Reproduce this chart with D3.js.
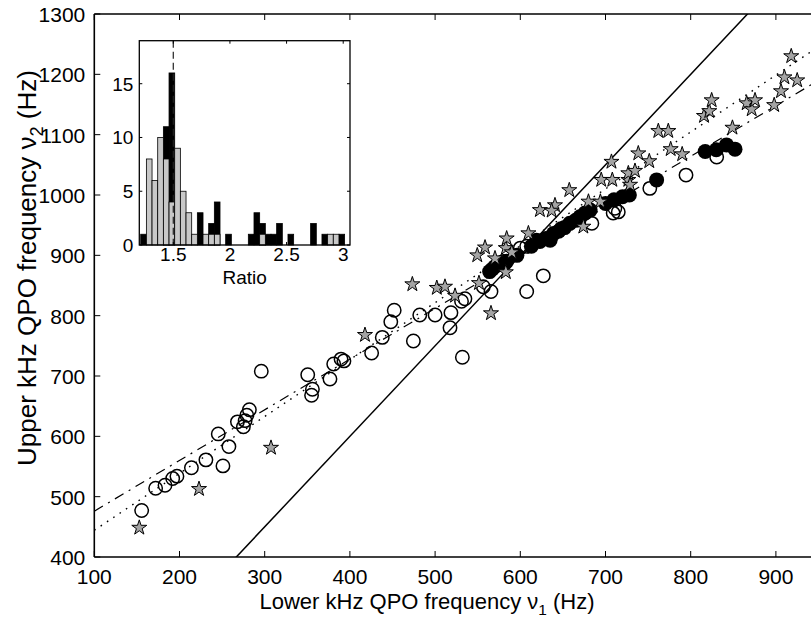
<!DOCTYPE html>
<html><head><meta charset="utf-8">
<script src="https://cdn.jsdelivr.net/npm/d3@7"></script>
<style>body{margin:0;background:#fff}svg{display:block}text{font-family:"Liberation Sans",Arial,Helvetica,sans-serif;fill:#000}</style>
</head><body><svg id="c" width="811" height="625"></svg>
<script>
// ---------- data ----------
const xTicks = [100,200,300,400,500,600,700,800,900];
const yTicks = [400,500,600,700,800,900,1000,1100,1200,1300];
const openNu1 = [155.6,172,183,192,197,214,231,251,245.5,258,268,275,277,279,282,296,350.5,356,355,376.6,381,389.6,393,425.5,438,448,452,474.5,482,500,518.6,517.5,531,535,532,556.6,565.6,607.5,627,607.5,684,709,715,711,752,794.5,830.5,580,600];
const openNu2 = [477,514,519,530,534,548,561,551,604,583,624,616,626,635,644,708,702,678,668,695,720,728,725,738,764,790,809,758,801,801,805,780,824,828,731,848,840,840,866,915,953,970,972,978,1011,1033,1063,890,912];
const fillNu1 = [564,567,570,582,584,596,613,619,623,630,635,639,645,648,652,658,665,670,676,682,700,710,720,728,760,817,830,842,852];
const fillNu2 = [873,877,881,887,890,900,915,925,923,928,925,936,940,944,946,953,958,964,970,975,986,992,997,1000,1025,1072,1075,1083,1076];
const starNu1 = [152.8,222.9,307.4,417.7,473.3,502,511.6,523.4,551.5,565.6,549.5,558.6,570.3,583,590,583,584,609.5,623,640.7,636.8,657.5,674,680,694,695,708,707,726.8,726.8,734.6,728.8,738.5,751.4,762,773.7,776.5,790,849,815.6,821.8,824.6,865.7,871.6,875.5,898,906,910,925,918];
const starNu2 = [448.5,512.7,581,768,852,846,848,833,854,804,900,913,895,912,905,872,928,936.5,975,983,974,1008,947.5,989,989,1025,1025,1055,1025,1036,1040,1017,1069,1056,1106,1106,1076,1067.5,1111.5,1131,1139,1157,1152,1142,1157,1149,1172,1195,1190,1230];
// fit lines (nu2 = slope*nu1 + intercept)
const lineSolid = {slope:1.5, intercept:0};
const lineDashDot = {slope:0.84, intercept:392};
const lineDotted = {slope:0.943, intercept:350};
// inset histogram
const binCenters = [1.2375,1.2875,1.3375,1.3875,1.4375,1.4875,1.5375,1.5875,1.6375,1.6875,1.7375,1.7875,1.8375,1.8875,1.9375,1.9875,2.0375,2.0875,2.1375,2.1875,2.2375,2.2875,2.3375,2.3875,2.4375,2.4875,2.5375,2.5875,2.6375,2.6875,2.7375,2.7875,2.8375,2.8875,2.9375,2.9875];
const blackCounts = [1,0,0,0,11,16,0,0,0,0,3,0,2,4,0,1,0,0,0,1,3,2,1,1,2,0,1,0,0,0,2,0,1,0,0,1];
const grayCounts  = [0,8,6,10,8,4,9,5,3,1,0,1,1,1,0,0,0,0,0,0,0,1,0,0,0,0,0,0,0,0,0,0,0,1,1,0];
const binWidth = 0.05;
const insetXTicks = [1.5,2,2.5,3];
const insetYTicks = [0,5,10,15];

// ---------- layout ----------
const svg = d3.select("#c");
const L=94.3, R=818.5, T=14, B=557;
const x = d3.scaleLinear().domain([100,950]).range([L,R]);
const y = d3.scaleLinear().domain([400,1300]).range([B,T]);
const F = 21, FL = 22, FY = 26;

svg.append("defs").append("clipPath").attr("id","clip").append("rect")
  .attr("x",L).attr("y",T).attr("width",R-L).attr("height",B-T);

const gl = svg.append("g").attr("clip-path","url(#clip)");
function drawLine(p, dash, w){
  const xs=[100,950];
  gl.append("line").attr("x1",x(xs[0])).attr("y1",y(p.slope*xs[0]+p.intercept))
    .attr("x2",x(xs[1])).attr("y2",y(p.slope*xs[1]+p.intercept))
    .attr("stroke","#000").attr("stroke-width",w).attr("stroke-dasharray",dash);
}
drawLine(lineSolid,null,1.5);
drawLine(lineDashDot,"10,6,2,6",1.2);
drawLine(lineDotted,"1.6,6",1.4);

const gm = svg.append("g").attr("clip-path","url(#clip)");
gm.selectAll("circle.o").data(openNu1.map((v,i)=>[v,openNu2[i]])).join("circle")
  .attr("cx",d=>x(d[0])).attr("cy",d=>y(d[1])).attr("r",6.7)
  .attr("fill","none").attr("stroke","#000").attr("stroke-width",1.5);
gm.selectAll("circle.f").data(fillNu1.map((v,i)=>[v,fillNu2[i]])).join("circle")
  .attr("cx",d=>x(d[0])).attr("cy",d=>y(d[1])).attr("r",7.5)
  .attr("fill","#000");
const star = d3.symbol().type(d3.symbolStar).size(70);
gm.selectAll("path.s").data(starNu1.map((v,i)=>[v,starNu2[i]])).join("path")
  .attr("d",star).attr("transform",d=>`translate(${x(d[0])},${y(d[1])})`)
  .attr("fill","#a4a4a4").attr("stroke","#000").attr("stroke-width",1);

// axes frame
const ga = svg.append("g");
ga.append("line").attr("x1",L).attr("x2",L).attr("y1",T).attr("y2",B).attr("stroke","#000").attr("stroke-width",1.6);
ga.append("line").attr("x1",L).attr("x2",R).attr("y1",B).attr("y2",B).attr("stroke","#000").attr("stroke-width",1.6);
ga.append("line").attr("x1",L).attr("x2",R).attr("y1",T).attr("y2",T).attr("stroke","#000").attr("stroke-width",1.6);
xTicks.forEach(t=>{
  ga.append("line").attr("x1",x(t)).attr("x2",x(t)).attr("y1",B).attr("y2",B-6).attr("stroke","#000");
  ga.append("line").attr("x1",x(t)).attr("x2",x(t)).attr("y1",T).attr("y2",T+6).attr("stroke","#000");
  ga.append("text").attr("x",x(t)).attr("y",B+27).attr("text-anchor","middle").attr("font-size",F).text(t);
});
yTicks.forEach(t=>{
  ga.append("line").attr("x1",L).attr("x2",L+6).attr("y1",y(t)).attr("y2",y(t)).attr("stroke","#000");
  ga.append("text").attr("x",L-9).attr("y",y(t)+8).attr("text-anchor","end").attr("font-size",F).text(t);
});
// axis labels
const xl = ga.append("text").attr("x",427).attr("y",609).attr("text-anchor","middle").attr("font-size",FL);
xl.append("tspan").text("Lower kHz QPO frequency  \u03bd");
xl.append("tspan").attr("font-size",FL*0.7).attr("dy",6).text("1");
xl.append("tspan").attr("dy",-6).text(" (Hz)");
const yl = ga.append("text").attr("transform","translate(36,268) rotate(-90)").attr("text-anchor","middle").attr("font-size",FY);
yl.append("tspan").text("Upper kHz QPO frequency  \u03bd");
yl.append("tspan").attr("font-size",FY*0.7).attr("dy",7).text("2");
yl.append("tspan").attr("dy",-7).text(" (Hz)");

// ---------- inset ----------
const iL=139.3, iR=350, iT=40.7, iB=245;
const ix = d3.scaleLinear().domain([1.2,3.06]).range([iL,iR]);
const iy = d3.scaleLinear().domain([0,19]).range([iB,iT]);
const gi = svg.append("g");
gi.append("rect").attr("x",iL).attr("y",iT).attr("width",iR-iL).attr("height",iB-iT).attr("fill","#fff");
gi.selectAll("rect.b").data(binCenters.map((c,i)=>[c,blackCounts[i]]).filter(d=>d[1]>0)).join("rect")
  .attr("x",d=>ix(d[0]-binWidth/2)).attr("width",d=>ix(d[0]+binWidth/2)-ix(d[0]-binWidth/2))
  .attr("y",d=>iy(d[1])).attr("height",d=>iB-iy(d[1])).attr("fill","#000").attr("stroke","#000").attr("stroke-width",0.8);
gi.selectAll("rect.g").data(binCenters.map((c,i)=>[c,grayCounts[i]]).filter(d=>d[1]>0)).join("rect")
  .attr("x",d=>ix(d[0]-binWidth/2)).attr("width",d=>ix(d[0]+binWidth/2)-ix(d[0]-binWidth/2))
  .attr("y",d=>iy(d[1])).attr("height",d=>iB-iy(d[1])).attr("fill","#c8c8c8").attr("stroke","#000").attr("stroke-width",0.8);
gi.append("line").attr("x1",ix(1.5)).attr("x2",ix(1.5)).attr("y1",iT).attr("y2",iB)
  .attr("stroke","#222").attr("stroke-width",1.2).attr("stroke-dasharray","7,4");
gi.append("rect").attr("x",iL).attr("y",iT).attr("width",iR-iL).attr("height",iB-iT).attr("fill","none").attr("stroke","#000").attr("stroke-width",1.3);
const FI=19;
insetXTicks.forEach(t=>{
  gi.append("line").attr("x1",ix(t)).attr("x2",ix(t)).attr("y1",iB).attr("y2",iB-3).attr("stroke","#000");
  gi.append("line").attr("x1",ix(t)).attr("x2",ix(t)).attr("y1",iT).attr("y2",iT+3).attr("stroke","#000");
  gi.append("text").attr("x",ix(t)).attr("y",iB+16).attr("text-anchor","middle").attr("font-size",FI).text(t);
});
insetYTicks.forEach(t=>{
  gi.append("line").attr("x1",iL).attr("x2",iL+3).attr("y1",iy(t)).attr("y2",iy(t)).attr("stroke","#000");
  gi.append("line").attr("x1",iR).attr("x2",iR-3).attr("y1",iy(t)).attr("y2",iy(t)).attr("stroke","#000");
  gi.append("text").attr("x",iL-6).attr("y",iy(t)+7).attr("text-anchor","end").attr("font-size",FI).text(t);
});
gi.append("text").attr("x",(iL+iR)/2).attr("y",iB+39).attr("text-anchor","middle").attr("font-size",FI).text("Ratio");
</script></body></html>
